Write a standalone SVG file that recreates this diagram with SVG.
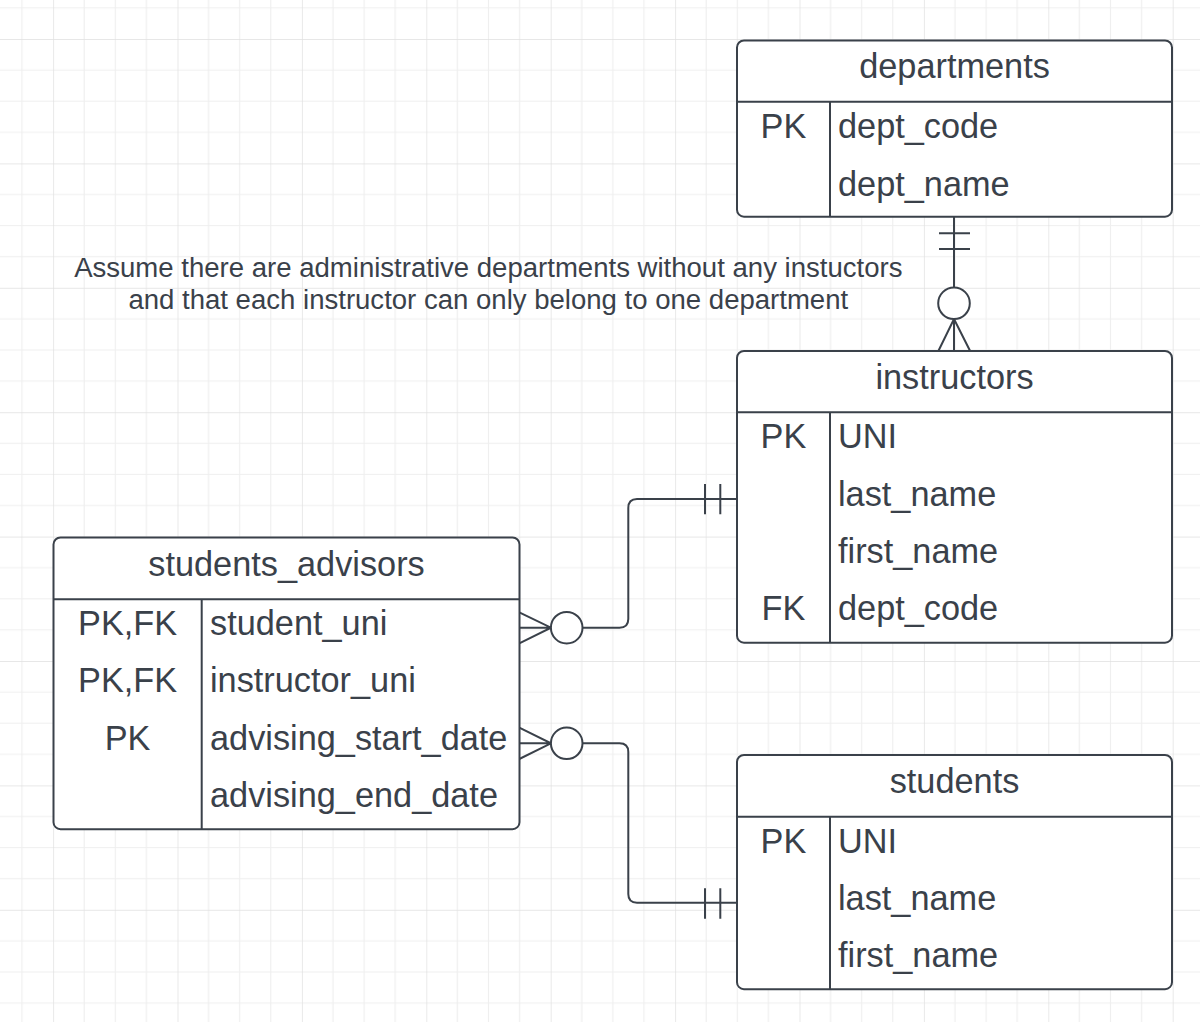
<svg xmlns="http://www.w3.org/2000/svg" width="1200" height="1022" viewBox="0 0 1200 1022">
<defs>
<pattern id="grid" x="53.1" y="39" width="124.4" height="124.4" patternUnits="userSpaceOnUse">
<path d="M31.1 0V124.4M62.2 0V124.4M93.3 0V124.4M0 31.1H124.4M0 62.2H124.4M0 93.3H124.4" stroke="#efefef" stroke-width="1.2" fill="none"/>
<path d="M0 0V124.4M0 0H124.4" stroke="#e0e0e0" stroke-width="1.4" fill="none"/>
</pattern>
<style>
.box{fill:#fff;stroke:#3a414a;stroke-width:2}
.ln{fill:none;stroke:#3a414a;stroke-width:2}
.t{font-family:"Liberation Sans",Arial,sans-serif;font-size:34.3px;fill:#3a414a}
.c{text-anchor:middle}
.note{font-family:"Liberation Sans",Arial,sans-serif;font-size:27.55px;fill:#3a414a;text-anchor:middle}
.circ{fill:#fff;stroke:#3a414a;stroke-width:2}
</style>
</defs>
<rect width="1200" height="1022" fill="#fff"/>
<rect width="1200" height="1022" fill="url(#grid)"/>

<g id="connectors">
<g id="dept-instr">
<path class="ln" d="M954 216.7V287.5M954 319V350.7M938.5 350.7L954 319L970 350.7M939 233.3H970M939 249H970"/>
<circle class="circ" cx="954" cy="303.3" r="15.8"/>
</g>
<g id="adv-instr">
<path class="ln" d="M582.5 627.7H619.5Q628.3 627.7 628.3 619V508Q628.3 499 637 499H737M519.3 612.3L551 627.7L519.3 643.3M520 627.7H551M705 484V514.3M720.3 484V514.3"/>
<circle class="circ" cx="566.7" cy="627.7" r="15.8"/>
</g>
<g id="adv-stud">
<path class="ln" d="M582.5 743.3H619.5Q628.3 743.3 628.3 752V894Q628.3 902.7 637 902.7H737M519.3 727.7L551 743.3L519.3 759M520 743.3H551M705 888.3V918.8M720.3 888.3V918.8"/>
<circle class="circ" cx="566.7" cy="743.3" r="15.8"/>
</g>
</g>

<g id="note">
<text class="note" x="488.3" y="277.3">Assume there are administrative departments without any instuctors</text>
<text class="note" x="488.3" y="309.3">and that each instructor can only belong to one department</text>
</g>

<g id="departments">
<rect class="box" x="737" y="40.5" width="435" height="176.2" rx="7"/>
<path class="ln" d="M737 101.7H1172M830 101.7V216.7"/>
<text class="t c" x="954.5" y="78.3">departments</text>
<text class="t c" x="783.5" y="138.3">PK</text>
<text class="t" x="838" y="138.3">dept_code</text>
<text class="t" x="838" y="195.5">dept_name</text>
</g>

<g id="instructors">
<rect class="box" x="737" y="351" width="435" height="291.7" rx="7"/>
<path class="ln" d="M737 412.3H1172M830 412.3V642.7"/>
<text class="t c" x="954.5" y="389">instructors</text>
<text class="t c" x="783.5" y="448.3">PK</text>
<text class="t" x="838" y="448.3">UNI</text>
<text class="t" x="838" y="505.5">last_name</text>
<text class="t" x="838" y="562.8">first_name</text>
<text class="t c" x="783.5" y="620">FK</text>
<text class="t" x="838" y="620">dept_code</text>
</g>

<g id="students_advisors">
<rect class="box" x="53.5" y="537.5" width="466" height="291.7" rx="7"/>
<path class="ln" d="M53.5 599.3H519.5M201.7 599.3V829.2"/>
<text class="t c" x="286.5" y="575.5">students_advisors</text>
<text class="t c" x="127.6" y="635">PK,FK</text>
<text class="t" x="210" y="635">student_uni</text>
<text class="t c" x="127.6" y="692.3">PK,FK</text>
<text class="t" x="210" y="692.3">instructor_uni</text>
<text class="t c" x="127.6" y="750">PK</text>
<text class="t" x="210" y="750">advising_start_date</text>
<text class="t" x="210" y="807.3">advising_end_date</text>
</g>

<g id="students">
<rect class="box" x="737" y="755" width="435" height="234.2" rx="7"/>
<path class="ln" d="M737 816.7H1172M830 816.7V989.2"/>
<text class="t c" x="954.5" y="792.7">students</text>
<text class="t c" x="783.5" y="853.3">PK</text>
<text class="t" x="838" y="853.3">UNI</text>
<text class="t" x="838" y="910.3">last_name</text>
<text class="t" x="838" y="967.3">first_name</text>
</g>
</svg>
